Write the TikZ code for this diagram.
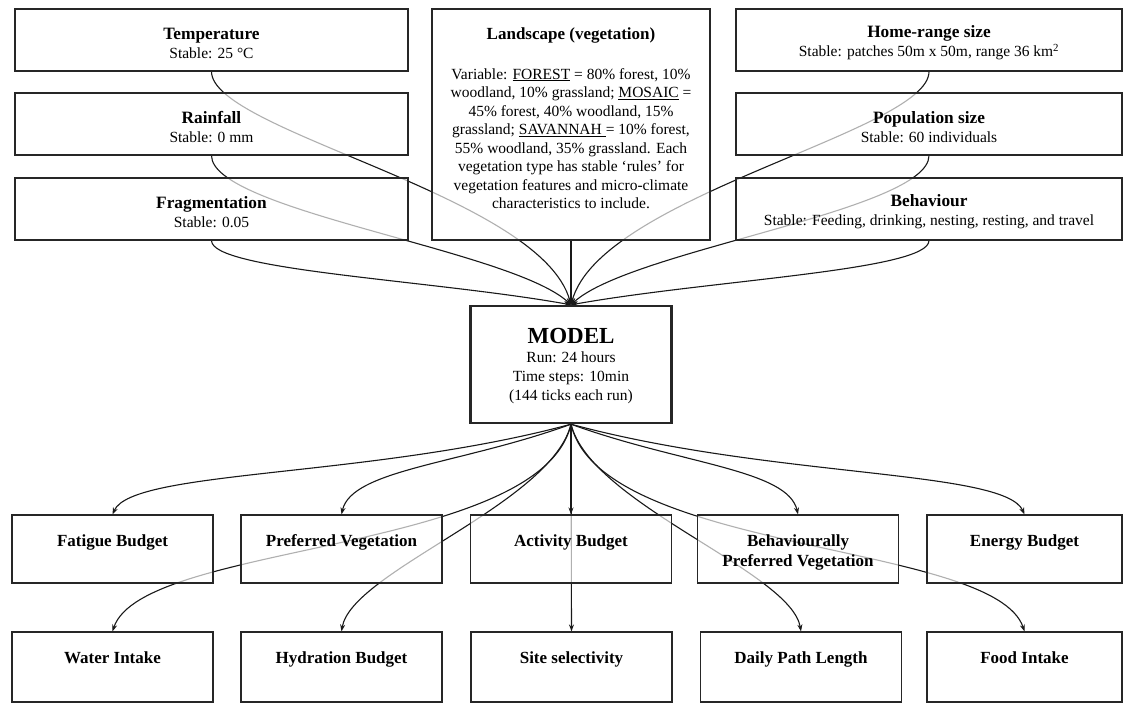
\documentclass[tikz,border=0pt]{standalone}
\usepackage{fontspec}
\setmainfont{Liberation Serif}
\usetikzlibrary{arrows.meta,backgrounds}
\newcommand\boxtitle[1]{{\fontsize{17.3}{19}\selectfont\bfseries #1}}
\begin{document}
\begin{tikzpicture}[x=1pt,y=-1pt,
  box/.style={draw=black!85, line width=1.1pt, fill=white, fill opacity=0.66, text opacity=1, draw opacity=1, inner sep=0pt, align=center, font=\fontsize{15.5}{19}\selectfont},
  topbox/.style={box, minimum width=393pt, minimum height=62pt},
  rightbox/.style={box, minimum width=386pt, minimum height=62pt},
  rowone/.style={box, minimum width=201pt, minimum height=68pt},
  rowtwo/.style={box, minimum width=201pt, minimum height=70pt},
  txt/.style={inner sep=0pt, align=center, font=\fontsize{15.5}{19}\selectfont},
  lbl/.style={anchor=north, inner sep=0pt, align=center, font=\fontsize{17}{20}\selectfont\bfseries},
  conn/.style={line width=1.1pt, draw=black!90, -{Stealth[length=7pt,width=5pt]}}
]
\useasboundingbox (0,0) rectangle (1125,704);

% top row
\node[topbox] (temp) at (211.5,40) {};
\node[topbox] (rain) at (211.5,124) {};
\node[topbox] (frag) at (211.5,209) {};
\node[rightbox] (home) at (929,40) {};
\node[rightbox] (pop) at (929,124) {};
\node[rightbox] (behav) at (929,209) {};
\node[txt] (tempt) at ([yshift=-3pt]temp.center) {\boxtitle{Temperature}\\Stable: 25 °C};
\node[txt] (raint) at ([yshift=-3pt]rain.center) {\boxtitle{Rainfall}\\Stable: 0 mm};
\node[txt] (fragt) at ([yshift=-3pt]frag.center) {\boxtitle{Fragmentation}\\Stable: 0.05};
\node[txt] (homet) at ([yshift=-3pt]home.center) {\boxtitle{Home-range size}\\Stable: patches 50m x 50m, range 36 km\textsuperscript{2}};
\node[txt] (popt) at ([yshift=-3pt]pop.center) {\boxtitle{Population size}\\Stable: 60 individuals};
\node[txt] (behavt) at ([yshift=-3pt]behav.center) {\boxtitle{Behaviour}\\Stable: Feeding, drinking, nesting, resting, and travel};

\node[box, minimum width=278pt, minimum height=231pt] (land) at (571,124.5) {};
\node[lbl] (landt) at (571,28) {Landscape (vegetation)};
\node[anchor=north, inner sep=0pt, align=center, font=\fontsize{15.5}{18.5}\selectfont] (landb) at (571,68)
 {Variable: \underline{FOREST} = 80\% forest, 10\%\\
  woodland, 10\% grassland; \underline{MOSAIC} =\\
  45\% forest, 40\% woodland, 15\%\\
  grassland; \underline{SAVANNAH\ }= 10\% forest,\\
  55\% woodland, 35\% grassland. Each\\
  vegetation type has stable ‘rules’ for\\
  vegetation features and micro-climate\\
  characteristics to include.};

% model
\node[box, line width=2.4pt, minimum width=201pt, minimum height=117pt] (model) at (571,364.5) {};
\node[txt] (modelt) at ([yshift=-2pt]model.center)
 {{\fontsize{23}{26}\selectfont\bfseries MODEL}\\Run: 24 hours\\Time steps: 10min\\(144 ticks each run)};

% bottom row 1
\node[rowone] (fat) at (112.5,549) {};
\node[rowone] (pv) at (341.5,549) {};
\node[rowone] (act) at (571,549) {};
\node[rowone] (bpv) at (798,549) {};
\node[rowone, minimum width=195pt] (en) at (1024.5,549) {};
% bottom row 2
\node[rowtwo] (water) at (112.5,667) {};
\node[rowtwo] (hyd) at (341.5,667) {};
\node[rowtwo] (site) at (571.5,667) {};
\node[rowtwo] (dpl) at (801,667) {};
\node[rowtwo, minimum width=195pt] (food) at (1024.5,667) {};

\node[lbl] (fatt) at ([yshift=-20pt]fat.north) {Fatigue Budget};
\node[lbl] (pvt) at ([yshift=-20pt]pv.north) {Preferred Vegetation};
\node[lbl] (actt) at ([yshift=-20pt]act.north) {Activity Budget};
\node[lbl] (bpvt) at ([yshift=-20pt]bpv.north) {Behaviourally\\Preferred Vegetation};
\node[lbl] (ent) at ([yshift=-20pt]en.north) {Energy Budget};
\node[lbl] (watert) at ([yshift=-20pt]water.north) {Water Intake};
\node[lbl] (hydt) at ([yshift=-20pt]hyd.north) {Hydration Budget};
\node[lbl] (sitet) at ([yshift=-20pt]site.north) {Site selectivity};
\node[lbl] (dplt) at ([yshift=-20pt]dpl.north) {Daily Path Length};
\node[lbl] (foodt) at ([yshift=-20pt]food.north) {Food Intake};

\begin{pgfonlayer}{background}
\fill[white] (0,0) rectangle (1125,704);
% inputs to model
\draw[conn] (temp.south) .. controls +(0,60) and +(-30,-110) .. (model.north);
\draw[conn] (rain.south) .. controls +(0,55) and +(-60,-55) .. (model.north);
\draw[conn] (frag.south) .. controls +(0,30) and +(-140,-25) .. (model.north);
\draw[conn] (land.south) -- (model.north);
\draw[conn] (home.south) .. controls +(0,60) and +(30,-110) .. (model.north);
\draw[conn] (pop.south) .. controls +(0,55) and +(60,-55) .. (model.north);
\draw[conn] (behav.south) .. controls +(0,30) and +(140,-25) .. (model.north);
% model to outputs
\draw[conn] (model.south) .. controls +(-200,54) and +(20,-45) .. (fat.north);
\draw[conn] (model.south) .. controls +(-110,40) and +(10,-45) .. (pv.north);
\draw[conn] (model.south) -- (act.north);
\draw[conn] (model.south) .. controls +(110,40) and +(-10,-45) .. (bpv.north);
\draw[conn] (model.south) .. controls +(200,54) and +(-20,-45) .. (en.north);
\draw[conn] (model.south) .. controls +(-30,130) and +(30,-90) .. (water.north);
\draw[conn] (model.south) .. controls +(-20,80) and +(10,-60) .. (hyd.north);
\draw[conn] (model.south) -- (site.north);
\draw[conn] (model.south) .. controls +(20,80) and +(-10,-60) .. (dpl.north);
\draw[conn] (model.south) .. controls +(30,130) and +(-30,-90) .. (food.north);
\end{pgfonlayer}
\end{tikzpicture}
\end{document}
